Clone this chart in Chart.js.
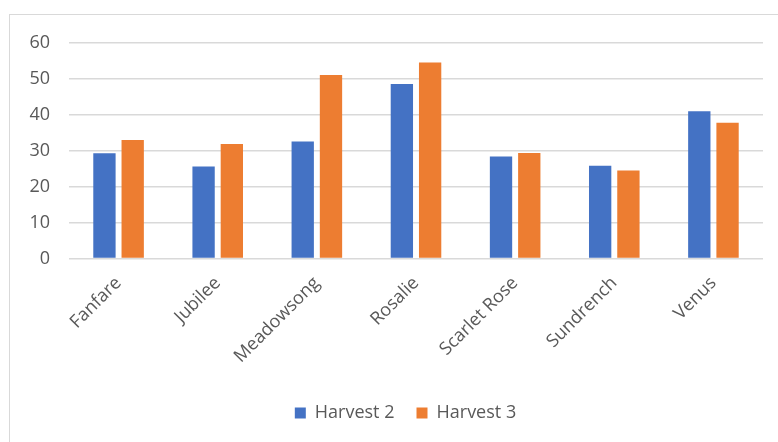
<!DOCTYPE html>
<html>
<head>
<meta charset="utf-8">
<script src="https://cdn.jsdelivr.net/npm/chart.js@4/dist/chart.umd.min.js"></script>
<style>
    html, body { margin: 0; padding: 0; background: #fff; }
    #wrap { position: relative; width: 778px; height: 442px; overflow: hidden; }
    #frame {
        position: absolute; left: 9px; top: 14px; width: 800px; height: 460px;
        border: 1.5px solid #d9d9d9; box-sizing: border-box;
    }
    #chart { position: absolute; left: 0; top: 0; }
</style>
</head>
<body>
<div id="wrap">
    <div id="frame"></div>
    <canvas id="chart" width="778" height="442"></canvas>
</div>
<script>
const varieties = ['Fanfare', 'Jubilee', 'Meadowsong', 'Rosalie', 'Scarlet Rose', 'Sundrench', 'Venus'];
const harvest2 = [29.3, 25.6, 32.6, 48.6, 28.4, 25.8, 41.0];
const harvest3 = [33.0, 31.9, 51.1, 54.6, 29.4, 24.5, 37.8];
const yTicks = [0, 10, 20, 30, 40, 50, 60];

const textColor = '#595959';
const gridColor = '#d9d9d9';

// legend padding also spaces the items apart, so pin its height separately
// and centre the row under the frame rather than the canvas
const legendBox = {
    id: 'legendBox',
    beforeUpdate(chart) {
        const legend = chart.legend;
        if (!legend || legend._pinned) return;
        const fit = legend.fit.bind(legend);
        legend.fit = function () { fit(); this.height = 50; };
        legend._pinned = true;
    },
    afterLayout(chart) {
        if (chart.legend) chart.legend.left = 48;
    }
};

const chart = new Chart(document.getElementById('chart').getContext('2d'), {
    type: 'bar',
    data: {
        labels: varieties,
        datasets: [
            { label: 'Harvest 2', data: harvest2, backgroundColor: '#4472c4' },
            { label: 'Harvest 3', data: harvest3, backgroundColor: '#ed7d31' }
        ]
    },
    plugins: [legendBox],
    options: {
        responsive: false,
        animation: false,
        devicePixelRatio: 1,
        categoryPercentage: 0.57,
        barPercentage: 0.79,
        layout: { padding: { top: 43, right: 15, bottom: 10, left: 0 } },
        plugins: {
            tooltip: { enabled: false },
            legend: {
                position: 'bottom',
                labels: {
                    color: textColor,
                    font: { family: 'Open Sans', size: 18 },
                    boxWidth: 11,
                    boxHeight: 11,
                    padding: 22
                }
            }
        },
        scales: {
            x: {
                grid: { display: false },
                border: { display: false },
                ticks: {
                    color: textColor,
                    font: { family: 'Open Sans', size: 18 },
                    maxRotation: 45,
                    minRotation: 45,
                    padding: 6
                },
                afterFit: scale => { scale.height = 123.5; }
            },
            y: {
                min: 0,
                max: 60,
                afterBuildTicks: scale => { scale.ticks = yTicks.map(v => ({ value: v })); },
                grid: { color: gridColor, lineWidth: 1.5, drawTicks: false },
                border: { display: false },
                ticks: {
                    color: textColor,
                    font: { family: 'Open Sans', size: 18 },
                    padding: 19
                },
                afterFit: scale => { scale.width = 69; }
            }
        }
    }
});
</script>
</body>
</html>
